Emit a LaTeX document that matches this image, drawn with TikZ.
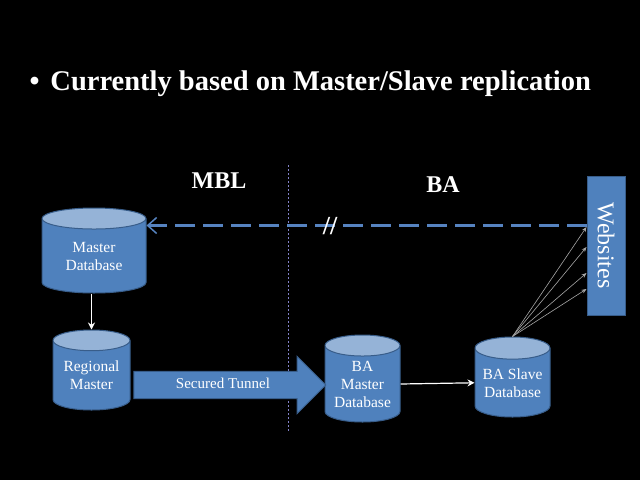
\documentclass[tikz,border=0pt]{standalone}
\usepackage{fontspec}
\setmainfont{Liberation Serif}
\usetikzlibrary{shapes.geometric,shapes.arrows,arrows.meta}
\definecolor{dbblue}{HTML}{4F81BD}
\definecolor{dbtop}{HTML}{95B3D7}
\definecolor{dbedge}{HTML}{385D8A}
\definecolor{linkblue}{HTML}{5683C0}
\tikzset{
  db/.style={cylinder, shape border rotate=90, draw=dbedge, line width=1pt, aspect=0.37,
    anchor=shape center,
    cylinder uses custom fill, cylinder body fill=dbblue, cylinder end fill=dbtop,
    text=white, align=center, font=\fontsize{15.5}{18}\selectfont, inner sep=0pt},
  side/.style={text=white, font=\bfseries\fontsize{24}{28}\selectfont},
  whitearrow/.style={white, line width=1.2pt, -{Stealth[length=7pt,width=7pt]}},
  feed/.style={gray!70, line width=0.6pt, -{Stealth[length=5pt,width=4pt]}}
}
\begin{document}
\begin{tikzpicture}[x=1pt,y=-1pt]
  \fill[black] (0,0) rectangle (640,480);
  \useasboundingbox (0,0) rectangle (640,480);
  \node[anchor=base west, text=white, font=\bfseries\fontsize{28.5}{32}\selectfont] (title) at (26,90)
    {\textbullet\hspace{11pt}Currently based on Master/Slave replication};
  \node[side] (mbl) at (219,181) {MBL};
  \node[side] (ba) at (443,185) {BA};
  % border between the two sites
  \coordinate (ctop) at (288,165);
  \coordinate (cbot) at (288,432);
  \draw[gray!60!blue!70, line width=1pt, dash pattern=on 2pt off 2pt] (ctop) -- (cbot);
  % databases
  \node[db, minimum width=104pt, minimum height=85pt] (mdb) at (94,250.5) {Master\\Database};
  \node[db, minimum width=77pt, minimum height=80pt] (reg) at (91.5,370) {Regional\\Master};
  \node[db, minimum width=75pt, minimum height=87pt] (bam) at (362.5,378.5) {BA\\Master\\Database};
  \node[db, minimum width=75pt, minimum height=80pt] (bas) at (512.5,377) {BA Slave\\Database};
  \node[fill=dbblue, draw=dbedge, line width=1pt, minimum width=38pt, minimum height=139pt,
    inner sep=0pt] (web) at (606,245.5) {};
  \node[rotate=-90, text=white, font=\fontsize{24}{26}\selectfont] (weblabel) at (web) {Websites};
  % tunnel
  \node[single arrow, fill=dbblue, draw=dbedge, line width=1pt, minimum height=192pt,
    single arrow head extend=15pt, text height=10.5pt, text depth=3pt, inner ysep=6.3pt,
    text=white, font=\fontsize{15}{17}\selectfont] (tunnel) at (223,385) {Secured Tunnel};
  % connectors
  \draw[whitearrow] (mdb.south -| reg.north) -- (reg.north);
  \draw[whitearrow] (bam.east) -- (bas.west);
  \draw[linkblue, line width=2.5pt, dash pattern=on 20pt off 8pt,
    -{Straight Barb[length=9pt,width=16pt,line width=1.5pt]}]
    ([yshift=20pt]web.west) -- ([yshift=20pt]web.west -| mdb.east);
  \node[text=white, font=\bfseries\fontsize{26}{28}\selectfont] (cut) at (330,226) {//};
  \foreach \dy in {18.5,-1.5,-27.5,-43.5}
    \draw[feed] (bas.north) -- ([yshift=\dy pt]web.west);
\end{tikzpicture}
\end{document}
